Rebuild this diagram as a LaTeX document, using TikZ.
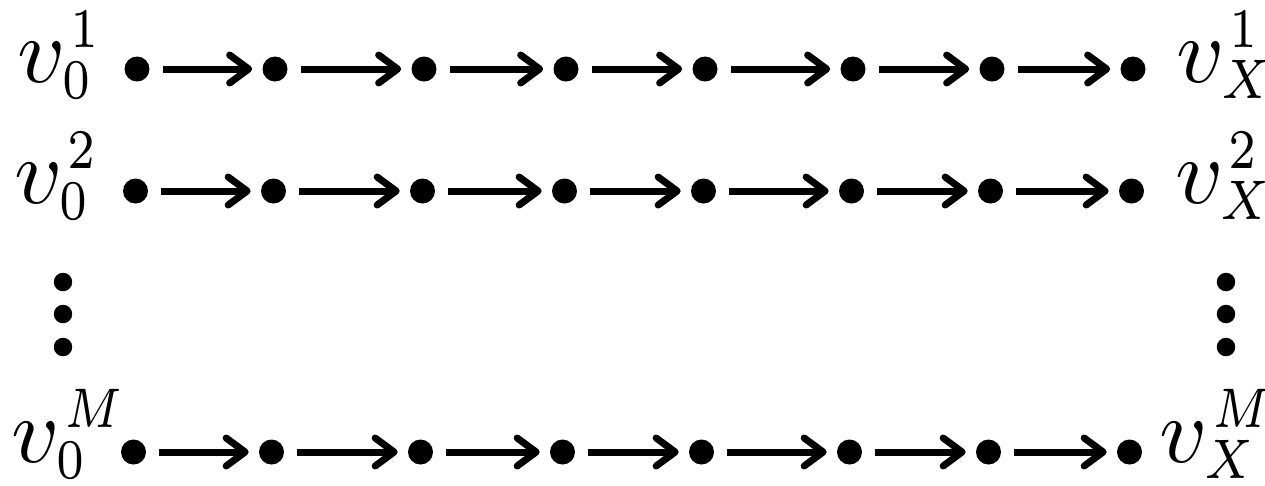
\documentclass[tikz,border=0pt]{standalone}
\usepackage{graphicx}
\usetikzlibrary{arrows.meta}
\DeclareMathSizes{10}{10}{6}{5}
\newsavebox{\labsub}
\newsavebox{\labsup}
\newlength{\labw}
\newlength{\labsw}
\newcommand{\vlab}[2]{\scalebox{5.3}{$v$\kern-0.4pt%
  \sbox{\labsub}{\scalebox{0.82}[1]{$\scriptstyle #1$}}%
  \sbox{\labsup}{\scalebox{0.82}[1]{$\scriptstyle #2$}}%
  \setlength{\labw}{\wd\labsub}%
  \setlength{\labsw}{\wd\labsup}\addtolength{\labsw}{0.9pt}%
  \ifdim\labsw>\labw \setlength{\labw}{\labsw}\fi
  \makebox[\labw][l]{\rlap{\kern0.9pt\raisebox{3.75pt}{\usebox{\labsup}}}\raisebox{-1.8pt}{\usebox{\labsub}}}}}
\begin{document}
\begin{tikzpicture}[x=0.02cm,y=-0.02cm,
  dot/.style={circle,fill=black,inner sep=0pt,minimum size=0.5cm},
  vdot/.style={circle,fill=black,inner sep=0pt,minimum size=0.37cm},
  arr/.style={line width=0.14cm,-{Straight Barb[length=0.38cm,width=0.56cm,round]},shorten <=0.26cm,shorten >=0.2cm},
  lab/.style={inner sep=0pt}]
\useasboundingbox (0,0) rectangle (1265,485);
\foreach \r/\y/\o in {1/69/0, 2/191/1.5, M/452/3.5} {
  \foreach \x [count=\i] in {137,275,424,566,705,853,992,1133}
    \node[dot] (r\r c\i) at (\x-\o,\y) {};
  \foreach \i [evaluate=\i as \j using int(\i+1)] in {1,...,7}
    \draw[arr] (r\r c\i) -- (r\r c\j);
}
\node[lab,anchor=base west] (l1) at (17,82) {\vlab{0}{1}};
\node[lab,anchor=base west] (l2) at (14,203) {\vlab{0}{2}};
\node[lab,anchor=base west] (lM) at (11,462) {\vlab{0}{M}};
\node[lab,anchor=base west] (rt1) at (1176,82) {\vlab{X}{1}};
\node[lab,anchor=base west] (rt2) at (1175,203) {\vlab{X}{2}};
\node[lab,anchor=base west] (rtM) at (1159,462) {\vlab{X}{M}};
\foreach \y [count=\k] in {282,314,347} {
  \node[vdot] (ld\k) at (63,\y) {};
  \node[vdot] (rd\k) at (1226,\y) {};
}
\end{tikzpicture}
\end{document}
